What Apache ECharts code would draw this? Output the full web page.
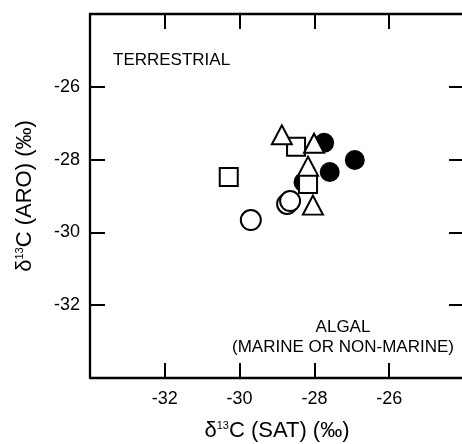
<!DOCTYPE html>
<html>
<head>
<meta charset="utf-8">
<script src="https://cdn.jsdelivr.net/npm/echarts@6/dist/echarts.min.js"></script>
<style>
  html, body { margin: 0; padding: 0; background: #fff; }
  #chart { width: 462px; height: 444px; }
</style>
</head>
<body>
<div id="chart"></div>
<script>
// d13C values, [SAT, ARO]
var filledCircles = [[-27.74, -27.54], [-26.92, -28.01], [-27.59, -28.34], [-28.29, -28.62]];
var openSquares   = [[-30.29, -28.48], [-28.49, -27.65], [-28.17, -28.67]];
var openTriangles = [[-28.87, -27.32], [-28.01, -27.55], [-28.17, -28.18], [-28.04, -29.25]];
var openCircles   = [[-29.70, -29.66], [-28.73, -29.22], [-28.65, -29.14]];

var axisMin = -34;
var axisMax = -24;
var tickStep = 2;

var font = '"Liberation Sans", Arial, sans-serif';

var chart = echarts.init(document.getElementById('chart'));

function frameAxis(pos, showLabels, extra)
{
    var ax = {
        type: 'value',
        position: pos,
        min: axisMin,
        max: axisMax,
        interval: tickStep,
        splitLine: { show: false },
        axisLine: { show: true, onZero: false, lineStyle: { color: '#000', width: 2.3 } },
        axisTick: { show: true, inside: true, length: 15, lineStyle: { color: '#000', width: 2 } },
        axisLabel: { show: showLabels }
    };
    return Object.assign(ax, extra || {});
}

var nameRich = {
    d: { fontFamily: font, fontSize: 22, color: '#000' },
    s: { fontFamily: font, fontSize: 11, color: '#000', verticalAlign: 'top' },
    n: { fontFamily: font, fontSize: 22, color: '#000' }
};

function openStyle()
{
    return { color: '#fff', borderColor: '#000', borderWidth: 2, opacity: 1 };
}

var option = {
    backgroundColor: '#fff',
    animation: false,
    grid: { left: 90, top: 14, right: -2, bottom: 66, outerBoundsMode: 'none', containLabel: false },
    xAxis: [
        frameAxis('bottom', true, {
            name: '{d|δ}{s|13}{n|C (SAT) (‰)}',
            nameLocation: 'middle',
            nameGap: 42,
            nameTextStyle: { rich: nameRich },
            axisLabel: {
                showMinLabel: false, showMaxLabel: false,
                color: '#000', fontFamily: font, fontSize: 18, margin: 12
            }
        }),
        frameAxis('top', false)
    ],
    yAxis: [
        frameAxis('left', true, {
            name: '{d|δ}{s|13}{n|C (ARO) (‰)}',
            nameLocation: 'middle',
            nameGap: 54,
            nameRotate: 90,
            nameTextStyle: { rich: nameRich },
            axisLabel: {
                showMinLabel: false, showMaxLabel: false,
                color: '#000', fontFamily: font, fontSize: 18, margin: 10
            }
        }),
        frameAxis('right', false)
    ],
    series: [
        {
            name: 'filled circle',
            type: 'scatter',
            symbol: 'circle',
            symbolSize: 20,
            itemStyle: { color: '#000', opacity: 1 },
            data: filledCircles,
            z: 2
        },
        {
            name: 'square',
            type: 'scatter',
            symbol: 'rect',
            symbolSize: 18,
            itemStyle: openStyle(),
            data: openSquares,
            z: 3
        },
        {
            name: 'triangle',
            type: 'scatter',
            symbol: 'triangle',
            symbolSize: [20, 19],
            itemStyle: openStyle(),
            data: openTriangles,
            z: 4
        },
        {
            name: 'open circle',
            type: 'scatter',
            symbol: 'circle',
            symbolSize: 20,
            itemStyle: openStyle(),
            data: openCircles,
            z: 5
        }
    ],
    graphic: [
        {
            type: 'text', left: 113, top: 52,
            style: { text: 'TERRESTRIAL', fill: '#000', font: '17px ' + font }
        },
        {
            type: 'text', x: 343, y: 327,
            style: { text: 'ALGAL', fill: '#000', font: '17px ' + font, align: 'center', verticalAlign: 'middle' }
        },
        {
            type: 'text', x: 343, y: 347,
            style: { text: '(MARINE OR NON-MARINE)', fill: '#000', font: '17px ' + font, align: 'center', verticalAlign: 'middle' }
        }
    ]
};

chart.setOption(option);
</script>
</body>
</html>
